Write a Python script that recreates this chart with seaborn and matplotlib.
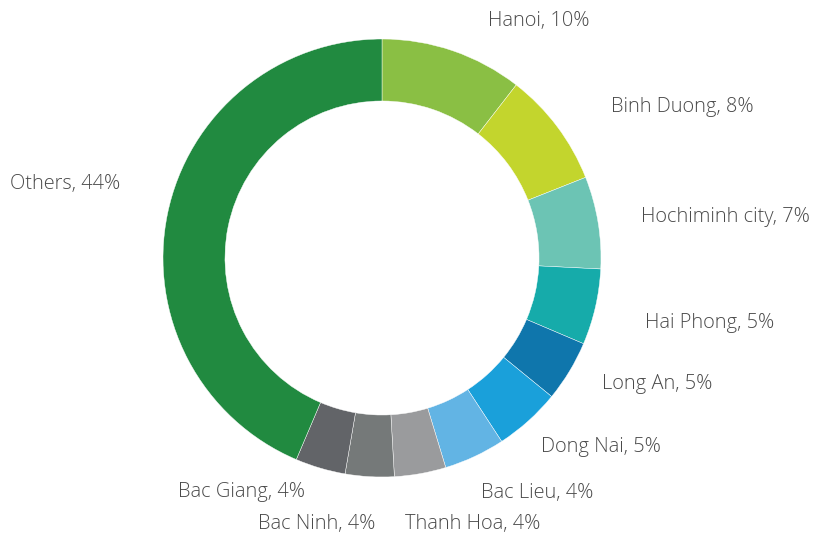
import matplotlib
matplotlib.use("Agg")
import matplotlib.pyplot as plt
import seaborn as sns
import numpy as np

# Data
regions = ["Hanoi", "Binh Duong", "Hochiminh city", "Hai Phong", "Long An",
           "Dong Nai", "Bac Lieu", "Thanh Hoa", "Bac Ninh", "Bac Giang", "Others"]
shares = [10.5, 8.5, 6.8, 5.6, 4.5, 4.9, 4.5, 3.8, 3.6, 3.7, 43.6]
share_labels = ["10%", "8%", "7%", "5%", "5%", "5%", "4%", "4%", "4%", "4%", "44%"]

colors = ["#8ABF44", "#C3D52D", "#6CC4B4", "#16ABAA", "#0F76AC", "#1AA0DA",
          "#62B4E4", "#9A9B9D", "#757979", "#626468", "#218A40"]

# label layout: pixel nudges from the radial anchor (dx right, dy down)
label_nudges = [(22, 10), (21, 5), (2, 1), (9, 7), (-3, -9), (-15, -5),
                (-11, -1), (-23, 9), (8, 6), (-4, -16), (-6, -22)]

sns.set_theme(style="white")
plt.rcParams["font.family"] = ["Open Sans", "DejaVu Sans"]
palette = sns.color_palette(colors)

W, H = 816, 541
cx, cy, R = 382, 258, 219
fig = plt.figure(figsize=(W / 100, H / 100), dpi=100)
ax = fig.add_axes([0, 0, 1, 1])

wedges, _ = ax.pie(shares, colors=palette, startangle=90, counterclock=False,
                   radius=1.0,
                   wedgeprops=dict(width=0.283, edgecolor="white", linewidth=0.3))

ax.set_xlim(-cx / R, (W - cx) / R)
ax.set_ylim(-(H - cy) / R, cy / R)
ax.set_aspect("auto")
ax.axis("off")

for w, name, lab, (ndx, ndy) in zip(wedges, regions, share_labels, label_nudges):
    ang = np.deg2rad((w.theta1 + w.theta2) / 2)
    d = 1.19
    x, y = d * np.cos(ang) + ndx / R, d * np.sin(ang) - ndy / R
    ha = "left" if np.cos(ang) >= 0 else "right"
    ax.text(x, y, f"{name}, {lab}", ha=ha, va="center", fontsize=14.4,
            fontweight="light", color="#4A4A4A")

fig.savefig("out.png", dpi=100)
